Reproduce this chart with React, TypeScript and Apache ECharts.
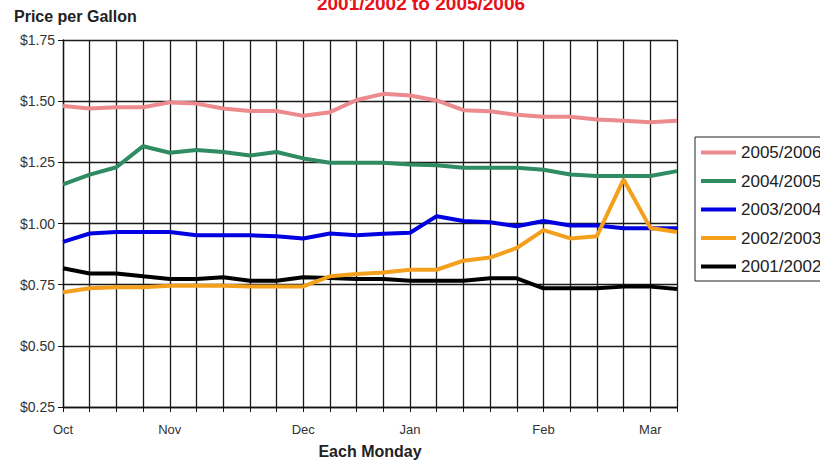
import React, { useEffect, useRef } from "react";
import * as echarts from "echarts";

const weeks = ["Oct", "", "", "", "Nov", "", "", "", "", "Dec", "", "", "", "Jan", "", "", "", "", "Feb", "", "", "", "Mar", ""];

const seasonNames = ["2005/2006", "2004/2005", "2003/2004", "2002/2003", "2001/2002"];

const s0506 = [1.48, 1.47, 1.475, 1.475, 1.495, 1.49, 1.47, 1.46, 1.46, 1.44, 1.455, 1.505, 1.53, 1.523, 1.503, 1.463, 1.459, 1.444, 1.436, 1.436, 1.425, 1.42, 1.414, 1.42];
const s0405 = [1.16, 1.2, 1.23, 1.316, 1.289, 1.3, 1.292, 1.278, 1.292, 1.266, 1.248, 1.248, 1.248, 1.241, 1.238, 1.228, 1.228, 1.228, 1.22, 1.2, 1.194, 1.194, 1.194, 1.214];
const s0304 = [0.925, 0.959, 0.965, 0.965, 0.965, 0.952, 0.952, 0.952, 0.948, 0.939, 0.959, 0.952, 0.958, 0.962, 1.03, 1.01, 1.005, 0.989, 1.01, 0.992, 0.992, 0.981, 0.981, 0.981];
const s0203 = [0.719, 0.735, 0.739, 0.739, 0.746, 0.746, 0.746, 0.743, 0.743, 0.743, 0.784, 0.794, 0.8, 0.811, 0.811, 0.848, 0.861, 0.9, 0.973, 0.939, 0.948, 1.18, 0.982, 0.965];
const s0102 = [0.817, 0.796, 0.796, 0.784, 0.773, 0.773, 0.78, 0.766, 0.766, 0.78, 0.777, 0.773, 0.773, 0.766, 0.766, 0.766, 0.776, 0.776, 0.735, 0.735, 0.735, 0.742, 0.742, 0.732];

const seriesValues = [s0506, s0405, s0304, s0203, s0102];
const seriesColors = ["#EC8A8E", "#2E8B62", "#0000E0", "#F4A01C", "#000000"];
const seriesZ = [2, 3, 4, 6, 5];

const yMin = 0.25;
const yMax = 1.75;
const yStep = 0.25;

const FONT = "'Liberation Sans', Arial, sans-serif";

export default function App() {
  const ref = useRef<HTMLDivElement>(null);

  useEffect(() => {
    if (!ref.current) return;
    const chart = echarts.init(ref.current, null, { renderer: "svg" });
    chart.setOption({
      animation: false,
      backgroundColor: "#ffffff",
      textStyle: { fontFamily: FONT },
      grid: { left: 63, right: 143, top: 40, bottom: 54, containLabel: false },
      legend: {
        orient: "vertical",
        left: 695,
        top: 137,
        data: seasonNames,
        icon: "rect",
        itemWidth: 35,
        itemHeight: 4,
        itemGap: 11.5,
        padding: [7, 12, 6, 6],
        borderColor: "#222",
        borderWidth: 1,
        textStyle: { fontSize: 17, color: "#222", fontFamily: FONT },
      },
      xAxis: {
        type: "category",
        data: weeks,
        boundaryGap: false,
        axisLine: { lineStyle: { color: "#111", width: 1.3 } },
        axisTick: { show: true, interval: 0, length: 5, lineStyle: { color: "#111" } },
        axisLabel: { interval: 0, margin: 16, fontSize: 13, color: "#333", fontFamily: FONT },
        splitLine: { show: true, interval: 0, lineStyle: { color: "#1a1a1a", width: 1.3 } },
      },
      yAxis: {
        type: "value",
        min: yMin,
        max: yMax,
        interval: yStep,
        axisLine: { show: true, lineStyle: { color: "#111", width: 1.3 } },
        axisTick: { show: true, length: 5, lineStyle: { color: "#111" } },
        axisLabel: {
          margin: 8,
          fontSize: 14,
          color: "#333",
          fontFamily: FONT,
          formatter: (v: number) => "$" + v.toFixed(2),
        },
        splitLine: { show: true, lineStyle: { color: "#1a1a1a", width: 1.3 } },
      },
      graphic: [
        {
          type: "text",
          left: 14,
          top: 8,
          style: { text: "Price per Gallon", font: "bold 16px " + FONT, fill: "#222" },
        },
        {
          type: "text",
          x: 370,
          y: 451,
          style: { text: "Each Monday", font: "bold 16px " + FONT, fill: "#222", align: "center", verticalAlign: "middle" },
        },
        {
          type: "text",
          x: 421,
          y: -6,
          style: { text: "2001/2002 to 2005/2006", font: "bold 19px " + FONT, fill: "#E8101A", align: "center", verticalAlign: "top" },
        },
      ],
      series: seasonNames.map((name, i) => ({
        name,
        type: "line",
        data: seriesValues[i],
        showSymbol: false,
        symbol: "none",
        z: seriesZ[i],
        color: seriesColors[i],
        lineStyle: { color: seriesColors[i], width: 4 },
      })),
    });
    return () => chart.dispose();
  }, []);

  return (
    <div
      ref={ref}
      style={{ position: "absolute", left: 0, top: 0, width: 820, height: 461, overflow: "hidden" }}
    />
  );
}
